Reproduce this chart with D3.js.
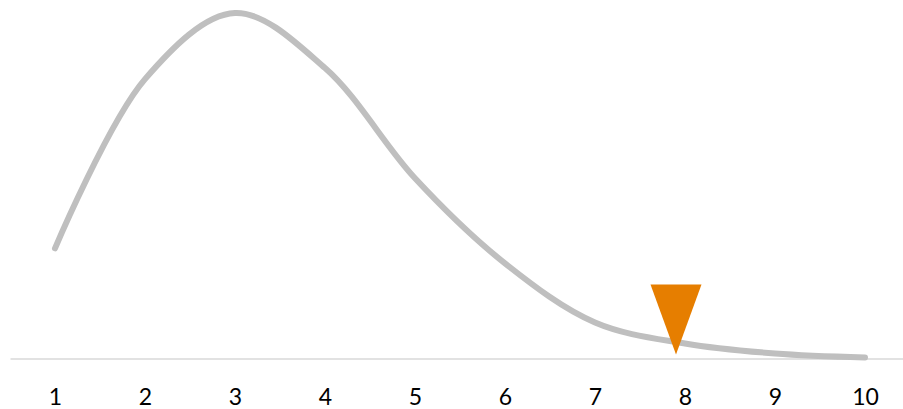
<!DOCTYPE html>
<html>
<head>
<meta charset="utf-8">
<script src="https://cdn.jsdelivr.net/npm/d3@7"></script>
<style>
html,body{margin:0;padding:0;background:#fff;}
svg{display:block;}
</style>
</head>
<body>
<svg id="chart" width="903" height="409"></svg>
<script>
const categories = [1, 2, 3, 4, 5, 6, 7, 8, 9, 10];
const values = [0.110, 0.279, 0.345, 0.290, 0.180, 0.095, 0.036, 0.015, 0.005, 0.001];
const markerX = [7.9];
const markerY = [0.004];
const tickLabels = ["1","2","3","4","5","6","7","8","9","10"];

const svg = d3.select("#chart");
const x = d3.scaleLinear().domain([0.5, 10.5]).range([10, 910]);
const y = d3.scaleLinear().domain([0, 0.358]).range([358.5, 0]);

// axis
const axis = d3.axisBottom(x)
  .tickValues(categories)
  .tickFormat((d, i) => tickLabels[i])
  .tickSize(0)
  .tickPadding(30);
const g = svg.append("g").attr("transform", `translate(0,${y(0)})`).call(axis);
g.select(".domain").attr("stroke", "#D9D9D9").attr("stroke-width", 1.5);
g.selectAll("text")
  .attr("font-family", "Lato, 'Open Sans', sans-serif")
  .attr("font-size", 23)
  .attr("fill", "#000");

// line
const line = d3.line()
  .x((d, i) => x(categories[i]))
  .y(d => y(d))
  .curve(d3.curveCatmullRom.alpha(0.5));
svg.append("path")
  .datum(values)
  .attr("d", line)
  .attr("fill", "none")
  .attr("stroke", "#BFBFBF")
  .attr("stroke-width", 6)
  .attr("stroke-linecap", "round")
  .attr("stroke-linejoin", "round");

// marker (inverted triangle, tip at the point)
const tw = 51, th = 70;
svg.selectAll(".marker")
  .data(markerX.map((d, i) => ({x: d, y: markerY[i]})))
  .enter().append("path")
  .attr("class", "marker")
  .attr("d", d => {
    const px = x(d.x), py = y(d.y);
    return `M${px - tw/2},${py - th}L${px + tw/2},${py - th}L${px},${py}Z`;
  })
  .attr("fill", "#E67E00");
</script>
</body>
</html>
